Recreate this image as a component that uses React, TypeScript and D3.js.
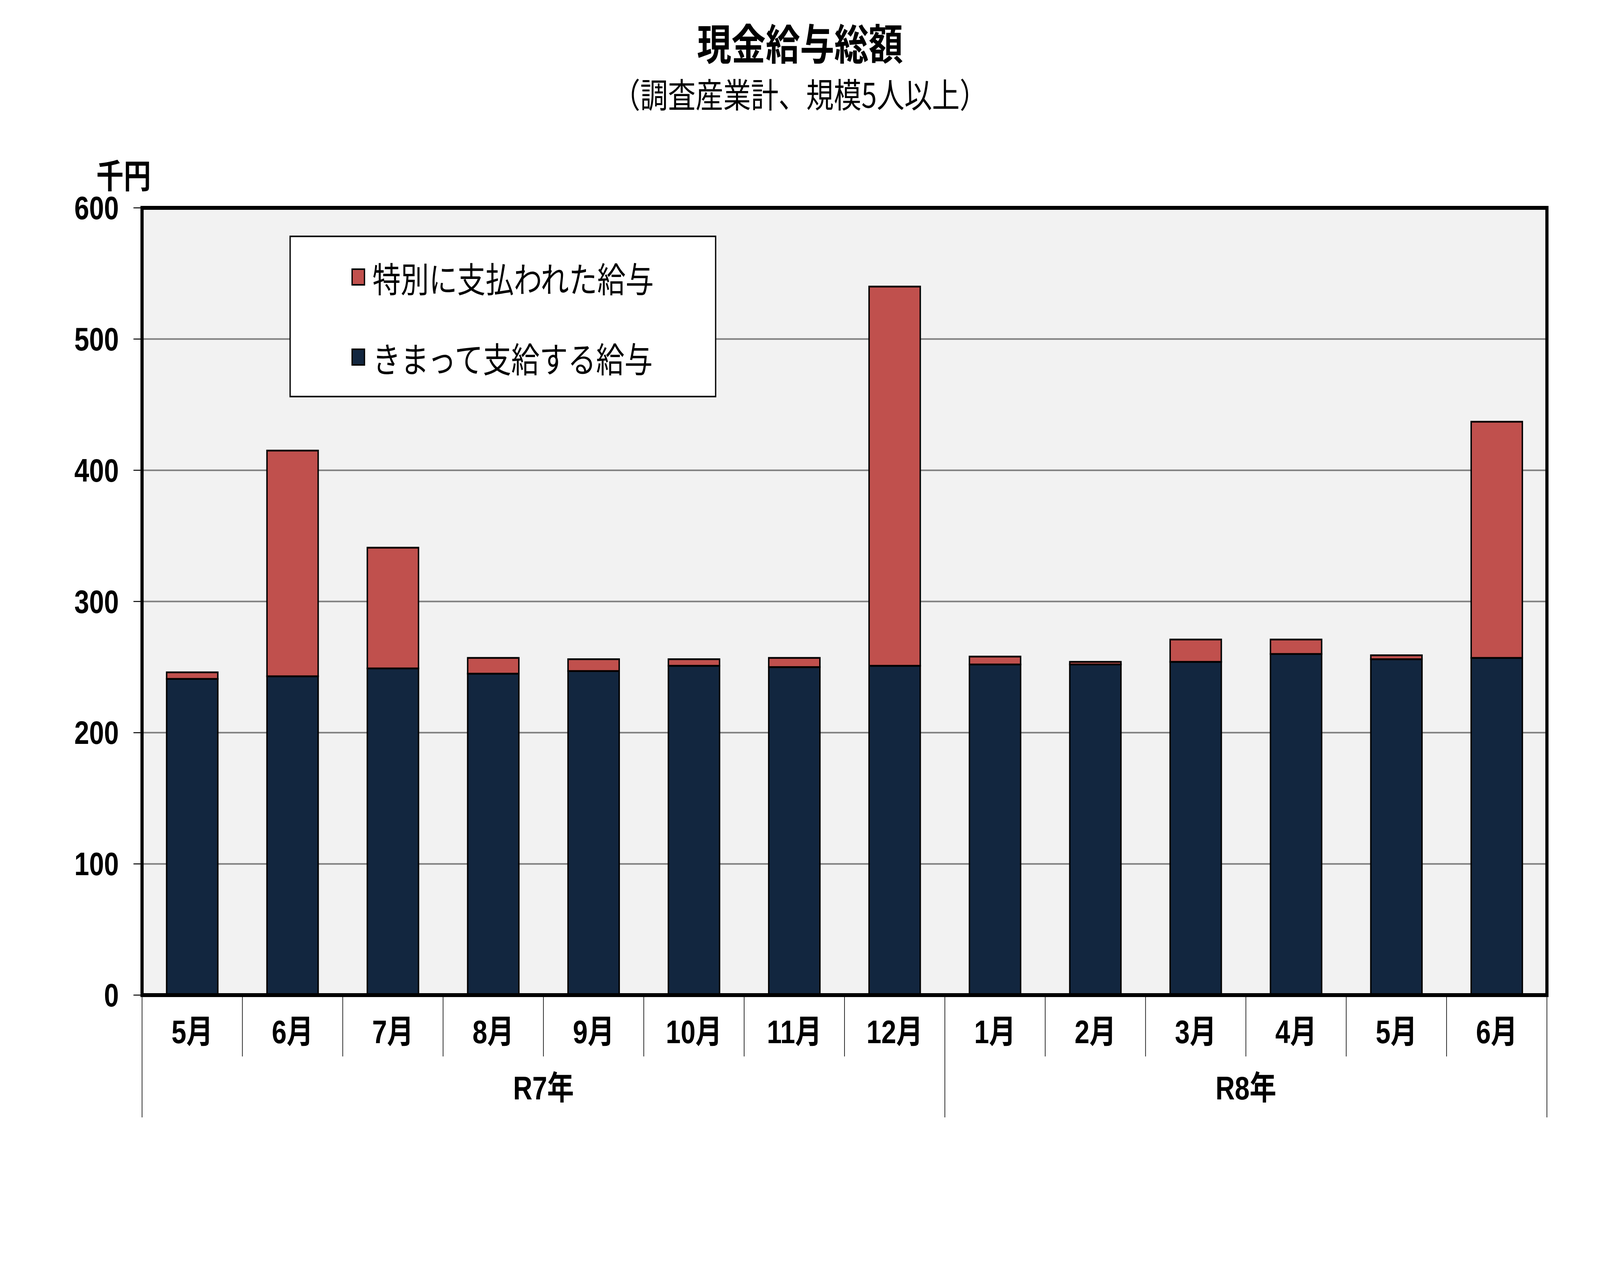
import React from "react";
import * as d3 from "d3";

const months = ["5月", "6月", "7月", "8月", "9月", "10月", "11月", "12月", "1月", "2月", "3月", "4月", "5月", "6月"];
const keys = ["R7-5", "R7-6", "R7-7", "R7-8", "R7-9", "R7-10", "R7-11", "R7-12", "R8-1", "R8-2", "R8-3", "R8-4", "R8-5", "R8-6"];
const regularPay = [241, 243, 249, 245, 247, 251, 250, 251, 252, 252, 254, 260, 256, 257];
const specialPay = [5, 172, 92, 12, 9, 5, 7, 289, 6, 2, 17, 11, 3, 180];
const groups = [
  { label: "R7年", start: 0, end: 8 },
  { label: "R8年", start: 8, end: 14 },
];
const yTicks = [0, 100, 200, 300, 400, 500, 600];
const seriesNames = ["特別に支払われた給与", "きまって支給する給与"];

const W = 5035;
const H = 3289;
const left = 447;
const right = 4868;
const top = 532;
const bottom = 2547;

const NAVY = "#12263F";
const RED = "#C0504D";
const FONT = "'Liberation Sans', 'Noto Sans CJK JP', sans-serif";
const JFONT = "'Noto Sans CJK JP', sans-serif";

export default function App() {
  React.useEffect(() => {
    document.body.style.margin = "0";
    document.body.style.overflow = "hidden";
  }, []);

  const x = d3.scaleBand<string>().domain(keys).range([left, right]).paddingInner(0.49).paddingOuter(0.245);
  const y = d3.scaleLinear().domain([0, 600]).range([bottom, top]);
  const bw = x.bandwidth();
  const boundaryX = (i: number) => left + (i * (right - left)) / keys.length;

  const stackData = keys.map((k, i) => ({ key: k, regular: regularPay[i], special: specialPay[i] }));
  const stack = d3.stack<any>().keys(["regular", "special"])(stackData);

  return (
    <svg
      viewBox={`0 0 ${W} ${H}`}
      preserveAspectRatio="none"
      style={{ position: "fixed", left: 0, top: 0, width: "100vw", height: "100vh", background: "#fff", display: "block" }}
      xmlns="http://www.w3.org/2000/svg"
    >
      <rect x={0} y={0} width={W} height={H} fill="#fff" />
      {/* titles */}
      <text x={W / 2} y={106} textAnchor="middle" dominantBaseline="central" fontFamily={JFONT} fontWeight="bold" fontSize={108}>
        現金給与総額
      </text>
      <text x={W / 2} y={238} textAnchor="middle" dominantBaseline="central" fontFamily={JFONT} fontSize={87}>
        （調査産業計、規模5人以上）
      </text>

      {/* plot background */}
      <rect x={left} y={top} width={right - left} height={bottom - top} fill="#F2F2F2" />

      {/* gridlines */}
      {yTicks.filter((t) => t > 0 && t < 600).map((t) => (
        <line key={"g" + t} x1={left} x2={right} y1={y(t)} y2={y(t)} stroke="#808080" strokeWidth={4} />
      ))}

      {/* bars */}
      {stack.map((layer, li) =>
        layer.map((d, i) => (
          <rect
            key={layer.key + i}
            x={x(keys[i]) as number}
            y={y(d[1])}
            width={bw}
            height={Math.max(0, y(d[0]) - y(d[1]))}
            fill={li === 0 ? NAVY : RED}
            stroke="#000"
            strokeWidth={4.5}
          />
        ))
      )}

      {/* plot border */}
      <rect x={left} y={top} width={right - left} height={bottom - top} fill="none" stroke="#000" strokeWidth={10} />

      {/* y ticks and labels */}
      {yTicks.map((t) => (
        <g key={"t" + t}>
          <line x1={420} x2={left} y1={y(t)} y2={y(t)} stroke="#000" strokeWidth={2.5} />
          <text x={374} y={y(t)} textAnchor="end" dominantBaseline="central" fontFamily={FONT} fontWeight="bold" fontSize={84}>
            {t}
          </text>
        </g>
      ))}
      <text x={389} y={445} textAnchor="middle" dominantBaseline="central" fontFamily={JFONT} fontWeight="bold" fontSize={86}>
        千円
      </text>

      {/* x category dividers */}
      {d3.range(keys.length + 1).map((i) => {
        const isGroup = groups.some((g) => g.start === i || g.end === i);
        return (
          <line
            key={"d" + i}
            x1={boundaryX(i)}
            x2={boundaryX(i)}
            y1={bottom + 5}
            y2={isGroup ? 2860 : 2704}
            stroke="#000"
            strokeWidth={2}
          />
        );
      })}

      {/* month labels */}
      {months.map((m, i) => (
        <text
          key={"m" + i}
          x={(x(keys[i]) as number) + bw / 2}
          y={2641}
          textAnchor="middle"
          dominantBaseline="central"
          fontFamily={FONT}
          fontWeight="bold"
          fontSize={84}
        >
          {m}
        </text>
      ))}

      {/* group labels */}
      {groups.map((g) => (
        <text
          key={g.label}
          x={(boundaryX(g.start) + boundaryX(g.end)) / 2}
          y={2785}
          textAnchor="middle"
          dominantBaseline="central"
          fontFamily={FONT}
          fontWeight="bold"
          fontSize={84}
        >
          {g.label}
        </text>
      ))}

      {/* legend */}
      <rect x={913} y={605} width={1339} height={410} fill="#fff" stroke="#000" strokeWidth={4} />
      {seriesNames.map((name, i) => {
        const cy = i === 0 ? 709 : 914;
        return (
          <g key={name}>
            <rect x={1108} y={cy - 20} width={39} height={40} fill={i === 0 ? RED : NAVY} stroke="#000" strokeWidth={4} />
            <text x={1172} y={cy} dominantBaseline="central" fontFamily={JFONT} fontSize={89}>
              {name}
            </text>
          </g>
        );
      })}
    </svg>
  );
}
